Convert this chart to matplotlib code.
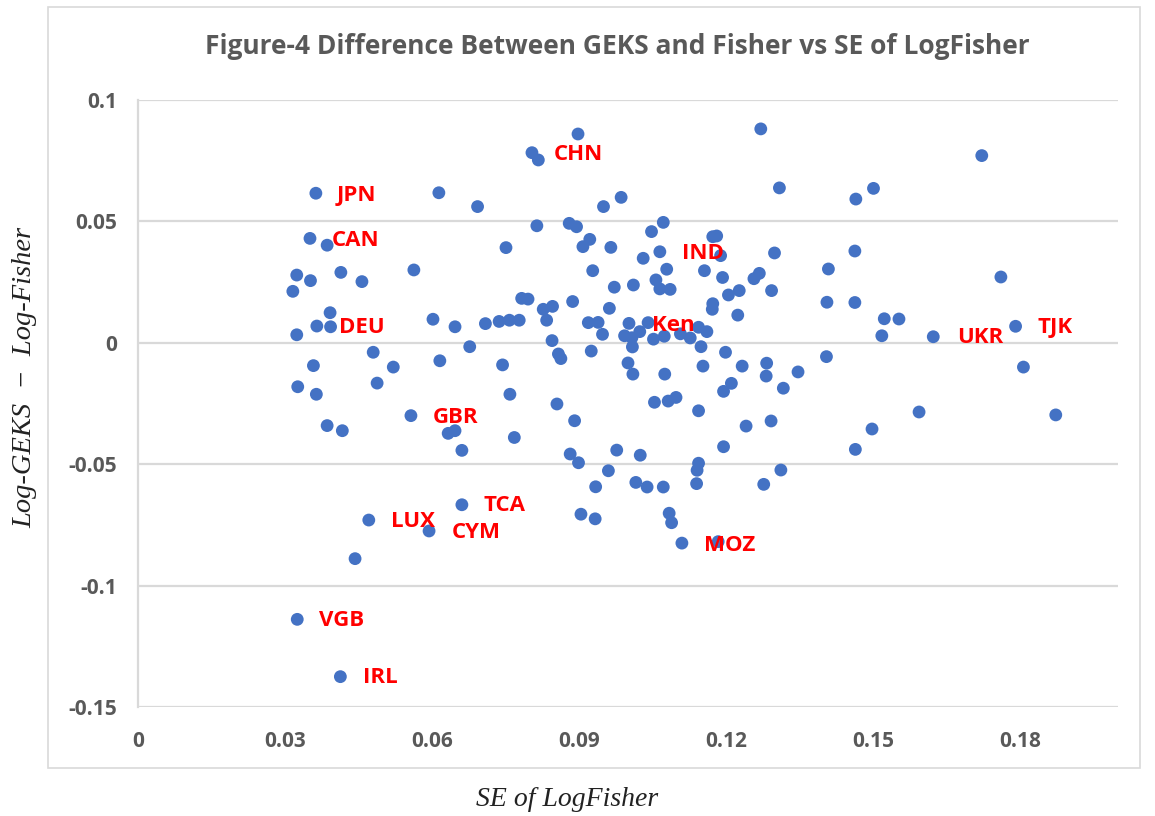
import matplotlib
matplotlib.use("Agg")
import matplotlib.pyplot as plt
from matplotlib.patches import Rectangle

# SE of LogFisher (x) and Log-GEKS - Log-Fisher (y)
se_logfisher = [
    0.0363, 0.0614, 0.0693, 0.0351, 0.0386, 0.0751, 0.0324, 0.0352, 0.0414, 0.0457,
    0.0563, 0.0316, 0.0392, 0.0365, 0.0393, 0.0324, 0.0602, 0.0647, 0.0709, 0.0737,
    0.0758, 0.0778, 0.0783, 0.0796, 0.0480, 0.0358, 0.0521, 0.0616, 0.0677, 0.0744,
    0.0326, 0.0364, 0.0488, 0.0759, 0.0557, 0.0386, 0.0417, 0.0633, 0.0647, 0.0661,
    0.0768, 0.0661, 0.0471, 0.0594, 0.0443, 0.0325, 0.0413,
    0.0898, 0.1271, 0.0804, 0.0817, 0.1309, 0.0950, 0.0986, 0.0814, 0.0880, 0.0895,
    0.1072, 0.1048, 0.0922, 0.0908, 0.0965, 0.1173, 0.1181, 0.1065, 0.1031, 0.1189,
    0.1299, 0.0928, 0.1079, 0.1156, 0.1193, 0.1268, 0.1257, 0.0972, 0.1011, 0.1057,
    0.1065, 0.1086, 0.1205, 0.1227, 0.1293, 0.0827, 0.0846, 0.0887, 0.0962, 0.1173,
    0.1172, 0.1224, 0.0834, 0.0919, 0.0939, 0.0948, 0.1002, 0.1041, 0.0993, 0.1008,
    0.1024, 0.1009, 0.1052, 0.1074, 0.1107, 0.1127, 0.1144, 0.1161, 0.1149, 0.0845,
    0.0858, 0.0863, 0.0925, 0.1000, 0.1010, 0.1075, 0.1153, 0.1199, 0.1233, 0.1283,
    0.1282, 0.1347, 0.1405, 0.1317, 0.1211, 0.1195, 0.0855, 0.0891, 0.1054, 0.1082,
    0.1098, 0.1144, 0.1292, 0.1241, 0.1195, 0.0882, 0.0899, 0.0977, 0.1025, 0.0960,
    0.0934, 0.1016, 0.1039, 0.1072, 0.1144, 0.1141, 0.1140, 0.1312, 0.1277, 0.0904,
    0.0933, 0.1084, 0.1089, 0.1110, 0.1184,
    0.1465, 0.1501, 0.1722, 0.1463, 0.1409, 0.1406, 0.1463, 0.1761, 0.1523, 0.1553,
    0.1518, 0.1623, 0.1791, 0.1807, 0.1594, 0.1498, 0.1464, 0.1873,
]
geks_minus_fisher = [
    0.0616, 0.0618, 0.0561, 0.0430, 0.0402, 0.0392, 0.0279, 0.0256, 0.0290, 0.0252,
    0.0300, 0.0212, 0.0124, 0.0069, 0.0066, 0.0033, 0.0097, 0.0066, 0.0079, 0.0088,
    0.0093, 0.0093, 0.0183, 0.0180, -0.0039, -0.0094, -0.0100, -0.0074, -0.0016, -0.0091,
    -0.0181, -0.0212, -0.0166, -0.0212, -0.0300, -0.0341, -0.0362, -0.0373, -0.0362, -0.0443,
    -0.0390, -0.0667, -0.0730, -0.0775, -0.0889, -0.1139, -0.1375,
    0.0860, 0.0881, 0.0783, 0.0753, 0.0638, 0.0561, 0.0599, 0.0482, 0.0492, 0.0478,
    0.0496, 0.0458, 0.0426, 0.0396, 0.0393, 0.0437, 0.0440, 0.0375, 0.0348, 0.0359,
    0.0370, 0.0297, 0.0303, 0.0297, 0.0269, 0.0286, 0.0264, 0.0229, 0.0238, 0.0259,
    0.0222, 0.0220, 0.0197, 0.0215, 0.0215, 0.0138, 0.0150, 0.0170, 0.0142, 0.0161,
    0.0138, 0.0114, 0.0093, 0.0083, 0.0084, 0.0035, 0.0080, 0.0083, 0.0029, 0.0021,
    0.0046, -0.0017, 0.0015, 0.0027, 0.0037, 0.0020, 0.0064, 0.0046, -0.0016, 0.0009,
    -0.0046, -0.0065, -0.0034, -0.0083, -0.0129, -0.0129, -0.0096, -0.0039, -0.0096, -0.0084,
    -0.0137, -0.0120, -0.0057, -0.0187, -0.0167, -0.0200, -0.0252, -0.0321, -0.0245, -0.0240,
    -0.0225, -0.0280, -0.0322, -0.0343, -0.0428, -0.0458, -0.0494, -0.0442, -0.0463, -0.0527,
    -0.0593, -0.0575, -0.0594, -0.0594, -0.0496, -0.0525, -0.0580, -0.0524, -0.0583, -0.0706,
    -0.0725, -0.0702, -0.0741, -0.0825, -0.0819,
    0.0592, 0.0636, 0.0771, 0.0378, 0.0304, 0.0167, 0.0166, 0.0271, 0.0099, 0.0098,
    0.0029, 0.0025, 0.0068, -0.0100, -0.0285, -0.0355, -0.0439, -0.0297,
]

# country labels and where their text starts (data units)
label_names = ["CHN", "JPN", "CAN", "DEU", "IND", "Ken", "UKR", "TJK",
               "GBR", "TCA", "LUX", "CYM", "VGB", "IRL", "MOZ"]
label_x = [0.0849, 0.0406, 0.0395, 0.0411, 0.1111, 0.1048, 0.1671, 0.1835,
           0.0601, 0.0705, 0.0516, 0.0640, 0.0370, 0.0459, 0.1156]
label_y = [0.0774, 0.0606, 0.0421, 0.0065, 0.0369, 0.0073, 0.0021, 0.0064,
           -0.0307, -0.0671, -0.0734, -0.0781, -0.1145, -0.1379, -0.0833]

x_ticks = [0, 0.03, 0.06, 0.09, 0.12, 0.15, 0.18]
x_tick_labels = ["0", "0.03", "0.06", "0.09", "0.12", "0.15", "0.18"]
y_ticks = [0.1, 0.05, 0, -0.05, -0.1, -0.15]
y_tick_labels = ["0.1", "0.05", "0", "-0.05", "-0.1", "-0.15"]

W, H = 1155, 816
fig = plt.figure(figsize=(W / 100, H / 100), dpi=100)
ax = fig.add_axes([138 / W, 1 - 707 / H, 980 / W, 607 / H])

grey_line = "#d9d9d9"
grey_text = "#595959"

# chart frame
fig.patches.append(Rectangle((48 / W, 1 - 768 / H), 1092 / W, 761 / H,
                             transform=fig.transFigure, fill=False,
                             edgecolor=grey_line, linewidth=1.2))

ax.scatter(se_logfisher, geks_minus_fisher, s=85, color="#4472C4",
           edgecolors="none", zorder=3, clip_on=False)

for name, lx, ly in zip(label_names, label_x, label_y):
    ax.text(lx, ly, name, color="#FF0000", fontsize=16, fontweight="bold",
            family="Open Sans", ha="left", va="center", zorder=4)

ax.set_xlim(0, 0.2)
ax.set_ylim(-0.15, 0.1)
ax.set_xticks(x_ticks)
ax.set_xticklabels(x_tick_labels)
ax.set_yticks(y_ticks)
ax.set_yticklabels(y_tick_labels)
ax.tick_params(length=0, labelcolor=grey_text, labelsize=15)
ax.tick_params(axis="y", pad=15)
ax.tick_params(axis="x", pad=17)
for lab in ax.get_xticklabels() + ax.get_yticklabels():
    lab.set_fontfamily("Open Sans")
    lab.set_fontweight("bold")

ax.grid(axis="y", color=grey_line, linewidth=1.6, zorder=0)
ax.set_axisbelow(True)
for side in ["top", "right", "bottom"]:
    ax.spines[side].set_visible(False)
ax.spines["left"].set_color(grey_line)
ax.spines["left"].set_linewidth(1.6)

fig.text(617 / W, 1 - 47 / H,
         "Figure-4 Difference Between GEKS and Fisher vs SE of LogFisher",
         ha="center", va="center", fontsize=19, fontweight="bold",
         family="Open Sans", color=grey_text)

fig.text(567 / W, 1 - 800 / H, "SE of LogFisher", ha="center", va="center",
         fontsize=20, style="italic", family="Liberation Serif", color="#222222")
fig.text(25 / W, 1 - 377 / H, "Log-GEKS  \u2212  Log-Fisher", ha="center",
         va="center", rotation=90, fontsize=20.5, style="italic",
         family="Liberation Serif", color="#222222")

fig.savefig("out.png", dpi=100)
